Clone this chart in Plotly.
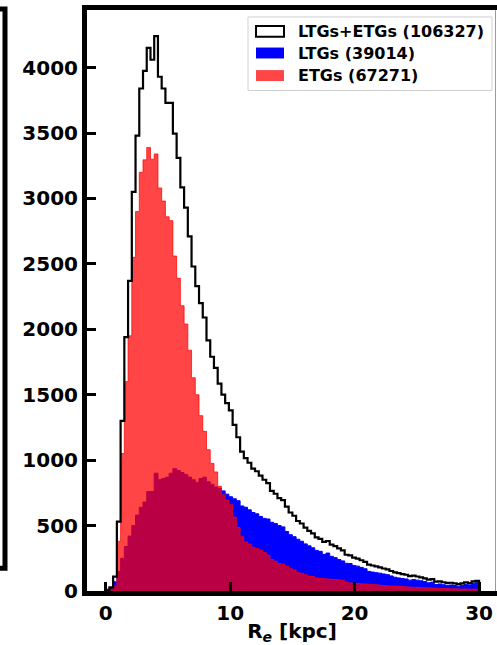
import numpy as np
import plotly.graph_objects as go

# ── Histogram data: 100 bins of 0.3 kpc between 0 and 30 kpc ─────────────────
bin_lo, bin_hi, n_bins = 0.0, 30.0, 100

ltg_counts = [
    5, 20, 70, 150, 250, 340, 420, 500, 580, 640,
    680, 760, 760, 900, 850, 860, 870, 900, 935, 920,
    905, 890, 870, 850, 830, 860, 870, 835, 815, 795,
    785, 765, 740, 720, 705, 690, 650, 640, 620, 600,
    590, 570, 555, 550, 525, 515, 500, 490, 455, 430,
    415, 395, 380, 360, 345, 330, 310, 303, 280, 290,
    265, 255, 240, 230, 212, 210, 195, 190, 180, 170,
    150, 145, 140, 136, 130, 125, 115, 105, 100, 95,
    92, 83, 88, 83, 78, 72, 63, 68, 50, 54,
    48, 44, 46, 42, 37, 44, 52, 47, 60, 64,
]

etg_counts = [
    3, 8, 40, 380, 1050, 1600, 1950, 2550, 2900, 3200,
    3295, 3390, 3300, 3340, 3080, 2980, 2860, 2830, 2560, 2390,
    2180, 2040, 1840, 1630, 1500, 1340, 1220, 1080, 975, 910,
    800, 735, 695, 660, 565, 485, 415, 375, 360, 335,
    325, 312, 295, 275, 240, 228, 210, 205, 190, 170,
    160, 140, 136, 125, 114, 110, 100, 95, 95, 92,
    90, 88, 85, 80, 65, 62, 60, 58, 55, 53,
    52, 50, 48, 45, 42, 40, 38, 38, 36, 34,
    32, 30, 29, 28, 26, 25, 24, 22, 21, 20,
    19, 18, 17, 17, 16, 15, 15, 14, 14, 13,
]

legend_labels = ["LTGs+ETGs (106327)", "LTGs (39014)", "ETGs (67271)"]
y_ticks = [0, 500, 1000, 1500, 2000, 2500, 3000, 3500, 4000]
x_ticks = [0, 10, 20, 30]

BLUE = "#0000FF"
RED = "rgba(255,0,0,0.73)"
FONT = "DejaVu Sans"

edges = np.linspace(bin_lo, bin_hi, n_bins + 1)
total_counts = [a + b for a, b in zip(ltg_counts, etg_counts)]


def step_xy(counts):
    """Outline of a step histogram (closed down to zero at both ends)."""
    x = [edges[0]] + list(edges[:-1]) + [edges[-1], edges[-1]]
    y = [0] + list(counts) + [counts[-1], 0]
    return x, y


fig = go.Figure()

x, y = step_xy(ltg_counts)
fig.add_trace(go.Scatter(x=x, y=y, mode="lines", line_shape="hv",
                         line=dict(color=BLUE, width=1), fill="tozeroy",
                         fillcolor=BLUE, hoverinfo="skip", showlegend=False))
x, y = step_xy(etg_counts)
fig.add_trace(go.Scatter(x=x, y=y, mode="lines", line_shape="hv",
                         line=dict(color=RED, width=1), fill="tozeroy",
                         fillcolor=RED, hoverinfo="skip", showlegend=False))
x, y = step_xy(total_counts)
fig.add_trace(go.Scatter(x=x, y=y, mode="lines", line_shape="hv",
                         line=dict(color="black", width=2.2),
                         hoverinfo="skip", showlegend=False))

# ── Page geometry (pixels) ───────────────────────────────────────────────────
W, H = 497, 645
L, T, B = 87, 10, 595


def px(xp):
    return (xp - L) / (W - L)


def py(yp):
    return (B - yp) / (B - T)


shapes = []
# right spine of the neighbouring (cropped) panel
shapes.append(dict(type="path", xref="paper", yref="paper",
                   path=f"M {px(-5)},{py(9)} L {px(5)},{py(9)} L {px(5)},{py(572)} L {px(-5)},{py(572)}",
                   line=dict(color="black", width=5)))
# thin image edge at the right
shapes.append(dict(type="line", xref="paper", yref="paper",
                   x0=px(495.5), x1=px(495.5), y0=0, y1=1,
                   line=dict(color="#9a9a9a", width=1)))

# manual legend (matplotlib-like boxes)
shapes.append(dict(type="rect", xref="paper", yref="paper",
                   x0=px(248), x1=px(492), y0=py(91), y1=py(17),
                   line=dict(color="#d0d0d0", width=1),
                   fillcolor="rgba(255,255,255,0.85)"))
handle_styles = [("white", "black", 2), (BLUE, BLUE, 0), (RED, RED, 0)]
row_y = [31.5, 53.3, 76]
annotations = []
for (fc, lc, lw), yc, label in zip(handle_styles, row_y, legend_labels):
    shapes.append(dict(type="rect", xref="paper", yref="paper",
                       x0=px(256), x1=px(284), y0=py(yc + 5.5), y1=py(yc - 5.5),
                       line=dict(color=lc, width=lw), fillcolor=fc))
    annotations.append(dict(xref="paper", yref="paper", x=px(296), y=py(yc),
                            xanchor="left", yanchor="middle", showarrow=False,
                            text=label,
                            font=dict(family=FONT, size=16, color="black", weight="bold")))

fig.update_layout(
    width=W, height=H,
    margin=dict(l=L, r=0, t=T, b=H - B),
    paper_bgcolor="white", plot_bgcolor="white",
    shapes=shapes, annotations=annotations,
    showlegend=False,
    xaxis=dict(
        range=[-1.5, 31.44], tickvals=x_ticks, ticks="inside", ticklen=9,
        tickwidth=2.5, tickcolor="black", showgrid=False, zeroline=False,
        showline=True, linewidth=5, linecolor="black", mirror=True,
        tickfont=dict(family=FONT, size=20, color="black", weight="bold"),
        title=dict(text="R<sub><i>e</i></sub> [kpc]", standoff=6,
                   font=dict(family=FONT, size=20, color="black", weight="bold")),
    ),
    yaxis=dict(
        range=[0, 4440], tickvals=y_ticks, ticks="inside", ticklen=9,
        tickwidth=2.5, tickcolor="black", showgrid=False, zeroline=False,
        showline=True, linewidth=5, linecolor="black",
        tickfont=dict(family=FONT, size=20, color="black", weight="bold"),
    ),
)

# drop the browser's default page margin so the figure sits at the page corner
fig.write_html("out.html", config={"displayModeBar": False},
               post_script="document.body.style.margin='0';document.body.style.overflow='hidden';")
